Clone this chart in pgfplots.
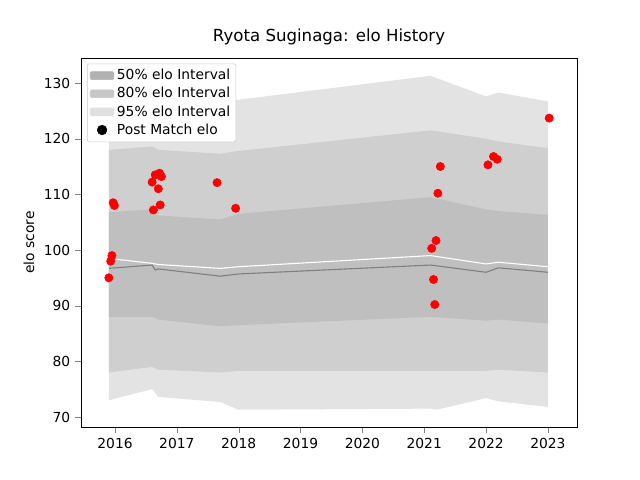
\documentclass[border=0pt]{standalone}
\usepackage{fontspec}
\setmainfont{DejaVu Sans}
\usepackage{pgfplots}
\pgfplotsset{compat=1.18}
\begin{document}
\begin{tikzpicture}
\useasboundingbox (-0.81in,-0.53in) rectangle (5.59in,4.27in);
\begin{axis}[at={(0,0)},anchor=south west,scale only axis,width=4.96in,height=3.69in,
xmin=2015.45,xmax=2023.47,ymin=68.2,ymax=134.5,
xtick={2016,...,2023},ytick={70,80,...,130},
xticklabel style={/pgf/number format/1000 sep={}},
/pgf/number format/assume math mode=true,
title={Ryota Suginaga: elo History},
title style={font=\large},
ylabel={elo score},
legend style={at={(0.012,0.985)},anchor=north west,draw=black!20,rounded corners=1pt,inner sep=2pt},
legend cell align=left,
tick align=outside,tick pos=left]
\addplot[fill=black!11,draw=none,forget plot] coordinates {(2015.9,124)(2016.6,125.8)(2016.7,125)(2017.7,126.6)(2018,127)(2021.1,131.3)(2022,127.6)(2022.2,128.3)(2023,126.7)
(2023,71.8)(2022.2,72.8)(2022,73.4)(2021.2,71.3)(2021.1,71.5)(2018,71.3)(2017.7,72.7)(2016.7,73.6)(2016.6,75)(2015.9,73)} -- cycle;
\addplot[fill=black!19,draw=none,forget plot] coordinates {(2015.9,118)(2016.6,118.6)(2016.7,118)(2017.7,117.3)(2018,117.8)(2021.1,121.5)(2022,120)(2022.2,119.5)(2023,118.3)
(2023,78)(2022.2,78.5)(2022,78.3)(2021.1,78.3)(2018,78.3)(2017.7,78)(2016.7,78.5)(2016.6,79)(2015.9,78)} -- cycle;
\addplot[fill=black!25,draw=none,forget plot] coordinates {(2015.9,106.8)(2016.6,107.3)(2016.7,106.2)(2017.7,105.5)(2018,106.5)(2021.1,109.5)(2022,107.3)(2022.2,107)(2023,106.3)
(2023,86.8)(2022.2,87.5)(2022,87.3)(2021.1,88)(2018,86.5)(2017.7,86.3)(2016.7,87.5)(2016.6,88)(2015.9,88)} -- cycle;
\addlegendimage{area legend,fill=black!30,draw=black!30}\addlegendentry{50\% elo Interval}
\addlegendimage{area legend,fill=black!22,draw=black!22}\addlegendentry{80\% elo Interval}
\addlegendimage{area legend,fill=black!12,draw=black!12}\addlegendentry{95\% elo Interval}
\addlegendimage{only marks,mark=*,black,mark size=3.5pt}\addlegendentry{Post Match elo}
\addplot[white,thick,forget plot] coordinates {(2015.9,98.5)(2016.6,97.6)(2016.7,97.4)(2017.7,96.7)(2018,97)(2021.1,99)(2022,97.5)(2022.2,97.8)(2023,97)};
\addplot[black!50,thick,forget plot] coordinates {(2015.9,96.7)(2016.6,97.3)(2016.65,96.4)(2016.7,96.6)(2017.7,95.3)(2018,95.7)(2021.1,97.3)(2022,96)(2022.2,96.8)(2023,96)};
\addplot[only marks,mark=*,red,mark size=3pt,forget plot] coordinates {(2015.9,95)(2015.93,98)(2015.95,99)(2015.97,108.5)(2015.99,108)(2016.6,112.2)(2016.62,107.2)(2016.65,113.5)(2016.7,111)(2016.72,113.8)(2016.73,108.1)(2016.75,113.2)(2017.65,112.1)(2017.95,107.5)(2021.12,100.3)(2021.15,94.7)(2021.17,90.2)(2021.19,101.7)(2021.22,110.2)(2021.26,115)(2022.03,115.3)(2022.12,116.8)(2022.18,116.3)(2023.02,123.7)};
\end{axis}
\end{tikzpicture}
\end{document}
